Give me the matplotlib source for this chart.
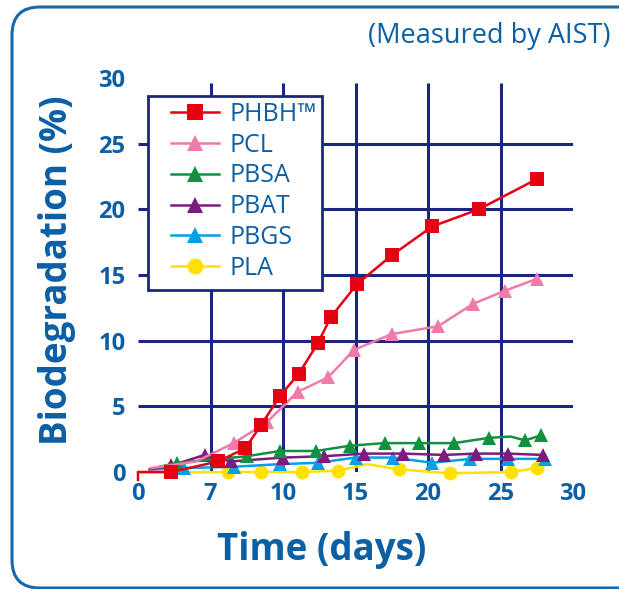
import matplotlib
matplotlib.use("Agg")
import matplotlib.pyplot as plt
from matplotlib.patches import FancyBboxPatch, Rectangle
from matplotlib import font_manager

# data (days, biodegradation %)
phbh_days = [2.3, 5.5, 7.4, 8.5, 9.8, 11.1, 12.4, 13.3, 15.1, 17.5, 20.3, 23.5, 27.5]
phbh_vals = [0.0, 0.8, 1.8, 3.6, 5.8, 7.5, 9.8, 11.8, 14.3, 16.5, 18.7, 20.0, 22.3]

pcl_days = [6.6, 8.9, 11.0, 13.1, 14.9, 17.5, 20.7, 23.1, 25.3, 27.5]
pcl_vals = [2.2, 3.8, 6.1, 7.2, 9.3, 10.5, 11.1, 12.8, 13.8, 14.7]

pbsa_days = [2.7, 7.5, 9.8, 12.3, 14.6, 17.0, 19.4, 21.8, 24.2, 26.7, 27.8]
pbsa_vals = [0.7, 1.2, 1.6, 1.6, 2.0, 2.2, 2.2, 2.2, 2.6, 2.4, 2.8]

pbat_days = [2.3, 4.6, 6.4, 10.0, 12.8, 15.6, 18.3, 21.1, 23.3, 25.5, 27.9]
pbat_vals = [0.5, 1.3, 0.8, 1.1, 1.2, 1.4, 1.4, 1.3, 1.4, 1.4, 1.3]

pbgs_days = [3.2, 6.6, 9.8, 12.4, 15.0, 17.6, 20.3, 22.9, 25.5, 28.1]
pbgs_vals = [0.3, 0.4, 0.6, 0.7, 1.1, 1.1, 0.7, 1.0, 1.0, 1.0]

pla_days = [6.2, 8.5, 11.3, 13.8, 18.0, 21.5, 25.7, 27.5]
pla_vals = [0.0, 0.0, 0.0, 0.1, 0.2, -0.1, 0.0, 0.3]

# unmarked points where the drawn curves start / bend between markers
phbh_start = ([0.0, 0.0], [-0.6, 0.0])
pcl_start = ([0.9, 4.0], [0.3, 0.8])
pbsa_start = ([1.5], [0.4])
pbat_start = ([0.8], [0.2])
pbgs_start = ([1.0], [0.2])
pla_start = ([0.25], [-0.05])
pla_bump = (15.8, 0.6)
pbsa_bump = (25.7, 2.7)

x_ticks = [0, 5, 10, 15, 20, 25, 30]
x_labels = ["0", "7", "10", "15", "20", "25", "30"]
y_ticks = [0, 5, 10, 15, 20, 25, 30]

BLUE = "#0b5fa5"
NAVY = "#1c2681"

names = set(f.name for f in font_manager.fontManager.ttflist)
tick_font = "Liberation Sans Narrow" if "Liberation Sans Narrow" in names else "Open Sans"
text_font = "Open Sans"

fig = plt.figure(figsize=(6.19, 5.89), dpi=100)
fig.patch.set_facecolor("white")

# rounded frame around the panel (filled so Agg does not clip it at the edges)
frame = FancyBboxPatch((12, 1), 660, 581, boxstyle="round,pad=0,rounding_size=28",
                       transform=None, facecolor="white", edgecolor="#1668ad",
                       lw=2.2, zorder=-5)
fig.patches.append(frame)

ax = fig.add_axes([138 / 619, 117 / 589, 435 / 619, 394 / 589])
ax.set_facecolor("none")
ax.set_xlim(0, 30)
ax.set_ylim(0, 30)
for s in ax.spines.values():
    s.set_visible(False)

# grid
ax.hlines([5, 10, 15, 20, 25], 0, 30, color=NAVY, lw=2.2, zorder=1)
ax.vlines([5, 10, 15, 20, 25], 0, 29.6, color=NAVY, lw=2.2, zorder=1)


def series(days, vals, start, bump=None):
    pts = list(zip(start[0], start[1])) + list(zip(days, vals))
    if bump is not None:
        pts.append(bump)
    pts.sort()
    return [p[0] for p in pts], [p[1] for p in pts]


specs = [
    ("PHBH™", phbh_days, phbh_vals, phbh_start, None, "#e60012", "s", 9.5),
    ("PCL", pcl_days, pcl_vals, pcl_start, None, "#ef7bab", "^", 10.5),
    ("PBSA", pbsa_days, pbsa_vals, pbsa_start, pbsa_bump, "#0f9140", "^", 10.5),
    ("PBAT", pbat_days, pbat_vals, pbat_start, None, "#7e1b7e", "^", 10.5),
    ("PBGS", pbgs_days, pbgs_vals, pbgs_start, None, "#03a0e6", "^", 10.5),
    ("PLA", pla_days, pla_vals, pla_start, pla_bump, "#ffe100", "o", 10),
]

handles = []
for i, (name, d, v, st, bump, col, mk, ms) in enumerate(specs):
    z = 10 - i
    lx, ly = series(d, v, st, bump)
    ax.plot(lx, ly, color=col, lw=1.8, zorder=z, clip_on=False)
    ax.plot(d, v, ls="none", marker=mk, color=col, ms=ms, mew=0, zorder=z, clip_on=False)
    h, = plt.plot([], [], color=col, lw=1.8, marker=mk, ms=ms + 1.5, mew=0)
    handles.append((h, name))

# legend box drawn separately so the inner padding can match
ax.add_patch(Rectangle(((148 - 138) / 435, (472 - 290) / 394), 174 / 435, 194 / 394,
                       transform=ax.transAxes, facecolor="white", edgecolor=NAVY,
                       lw=2, zorder=19, clip_on=False))
leg = ax.legend([h for h, _ in handles], [n for _, n in handles],
                loc="upper left", bbox_to_anchor=((171 - 138) / 435, (472 - 102) / 394),
                borderaxespad=0, frameon=False,
                prop={"family": text_font, "size": 18},
                handlelength=1.9, handletextpad=0.42, labelspacing=0.23,
                borderpad=0, numpoints=1)
leg.set_zorder(20)
for t in leg.get_texts():
    t.set_color(BLUE)

ax.set_xticks(x_ticks)
ax.set_xticklabels(x_labels)
ax.set_yticks(y_ticks)
ax.tick_params(axis="x", length=0, pad=7, labelcolor=BLUE)
ax.tick_params(axis="y", length=0, pad=9, labelcolor=BLUE)
for lab in ax.get_xticklabels() + ax.get_yticklabels():
    lab.set_fontfamily(tick_font)
    lab.set_fontweight("bold")
    lab.set_fontsize(17)

fig.text(57 / 619, 1 - 270 / 589, "Biodegradation (%)", rotation=90,
         ha="center", va="center", fontsize=26.5, fontweight="bold",
         family=text_font, color=BLUE)
fig.text(322 / 619, 1 - 550 / 589, "Time (days)", ha="center", va="center",
         fontsize=26.5, fontweight="bold", family=text_font, color=BLUE)

fig.text(610 / 619, 1 - 36 / 589, "(Measured by AIST)", ha="right", va="center",
         fontsize=19.5, family=text_font, color=BLUE)

fig.savefig("out.png", dpi=100, facecolor="white")
